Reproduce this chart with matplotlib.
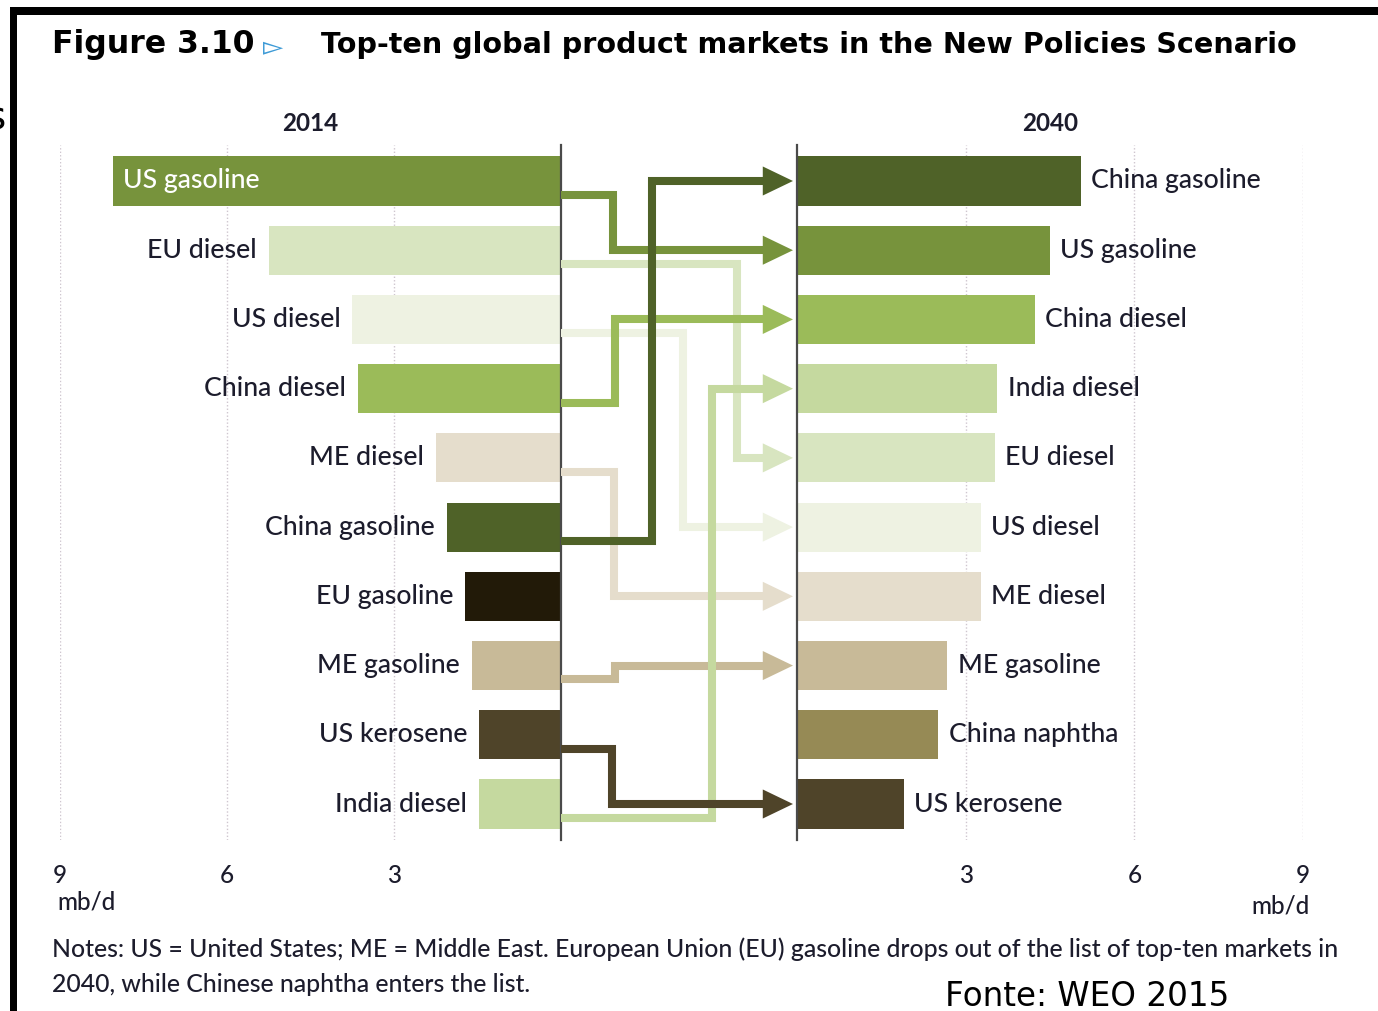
import matplotlib
matplotlib.use("Agg")
import matplotlib.pyplot as plt
from matplotlib.patches import Polygon, Rectangle
import matplotlib.transforms as mtransforms

# ---------------- data ----------------
products_2014 = ["US gasoline", "EU diesel", "US diesel", "China diesel", "ME diesel",
                 "China gasoline", "EU gasoline", "ME gasoline", "US kerosene", "India diesel"]
values_2014 = [8.05, 5.25, 3.75, 3.65, 2.25, 2.05, 1.72, 1.6, 1.47, 1.47]

products_2040 = ["China gasoline", "US gasoline", "China diesel", "India diesel", "EU diesel",
                 "US diesel", "ME diesel", "ME gasoline", "China naphtha", "US kerosene"]
values_2040 = [5.05, 4.5, 4.23, 3.56, 3.52, 3.27, 3.27, 2.67, 2.51, 1.9]

tick_values = [3, 6, 9]
tick_labels = ["3", "6", "9"]

colors = {
    "US gasoline": "#77933c",
    "China gasoline": "#4f6228",
    "China diesel": "#9bbb59",
    "India diesel": "#c5d99f",
    "EU diesel": "#d8e5c0",
    "US diesel": "#eef2e2",
    "ME diesel": "#e5ddcc",
    "ME gasoline": "#c8ba98",
    "EU gasoline": "#221a08",
    "US kerosene": "#4f4429",
    "China naphtha": "#968a55",
}

# elbow position (fraction of the connector gap) for each product's arrow
elbow_x = {
    "US gasoline": 0.22, "China gasoline": 0.385, "EU diesel": 0.745, "China diesel": 0.23,
    "US diesel": 0.515, "India diesel": 0.64, "ME diesel": 0.225, "ME gasoline": 0.23,
    "US kerosene": 0.215,
}
draw_order = ["US diesel", "EU diesel", "ME diesel", "ME gasoline", "India diesel",
              "China diesel", "US gasoline", "US kerosene", "China gasoline"]

TEXT = "#1c1c2c"
LABEL_FONT = ["Lato", "DejaVu Sans"]

W, H = 1378, 1011
fig = plt.figure(figsize=(W / 100, H / 100), dpi=100)
fig.patch.set_facecolor("white")
renderer = fig.canvas.get_renderer()

def fx(px):
    return px / W

def fy(py):
    return 1 - py / H

def fit(t, target_px):
    w = t.get_window_extent(renderer).width
    t.set_fontsize(t.get_fontsize() * target_px / w)

# label font size: fit "China gasoline" to its width in the original
probe = fig.text(0, 0, "China gasoline", fontsize=10, family=LABEL_FONT, weight=500)
fit(probe, 171)
lab_size = probe.get_fontsize()
probe.remove()

top_px, bot_px = 145, 840
ax_b = fy(bot_px)
ax_h = (bot_px - top_px) / H
axL = fig.add_axes([fx(60), ax_b, fx(561) - fx(60), ax_h])
axM = fig.add_axes([fx(561), ax_b, fx(797) - fx(561), ax_h])
axR = fig.add_axes([fx(797), ax_b, fx(1303) - fx(797), ax_h])

ylim = (9.52, -0.52)
bar_h = 0.71
n = len(products_2014)

for ax, side in ((axL, "L"), (axR, "R")):
    ax.set_ylim(*ylim)
    ax.set_xlim(9, 0) if side == "L" else ax.set_xlim(0, 9)
    for s in ax.spines.values():
        s.set_visible(False)
    sp = ax.spines["right"] if side == "L" else ax.spines["left"]
    sp.set_visible(True)
    sp.set_color("#4a4a4a")
    sp.set_linewidth(1.6)
    sp.set_zorder(5)
    ax.set_yticks([])
    ax.set_xticks(tick_values)
    ax.set_xticklabels(tick_labels)
    ax.tick_params(axis="x", length=0, pad=17, labelsize=17.5, labelcolor=TEXT)
    for lab in ax.get_xticklabels():
        lab.set_family(LABEL_FONT)
        lab.set_weight(500)
    ax.grid(axis="x", linestyle=(0, (1, 1.5)), color="#cfc6cf", linewidth=1.0)
    ax.set_axisbelow(True)

# bars
axL.barh(range(n), values_2014, height=bar_h, color=[colors[p] for p in products_2014], zorder=2)
axR.barh(range(n), values_2040, height=bar_h, color=[colors[p] for p in products_2040], zorder=2)

for i, (p, v) in enumerate(zip(products_2014, values_2014)):
    if v > 6:
        axL.annotate(p, (v, i), xytext=(7.5, 0), textcoords="offset points", ha="left",
                     va="center", color="white", fontsize=lab_size, family=LABEL_FONT,
                     weight=500, zorder=4)
    else:
        axL.annotate(p, (v, i), xytext=(-8.5, 0), textcoords="offset points", ha="right",
                     va="center", color=TEXT, fontsize=lab_size, family=LABEL_FONT,
                     weight=500, zorder=4)
for i, (p, v) in enumerate(zip(products_2040, values_2040)):
    axR.annotate(p, (v, i), xytext=(7.5, 0), textcoords="offset points", ha="left",
                 va="center", color=TEXT, fontsize=lab_size, family=LABEL_FONT,
                 weight=500, zorder=4)

axL.set_title("2014", fontsize=17.5, fontweight="bold", color=TEXT, pad=10, family=LABEL_FONT)
axR.set_title("2040", fontsize=17.5, fontweight="bold", color=TEXT, pad=10, family=LABEL_FONT)

# mb/d units
axL.text(9.05, -0.072, "mb/d", transform=mtransforms.blended_transform_factory(axL.transData, axL.transAxes),
         ha="left", va="top", fontsize=17.5, color=TEXT, family=LABEL_FONT, weight=500)
axR.text(9.12, -0.078, "mb/d", transform=mtransforms.blended_transform_factory(axR.transData, axR.transAxes),
         ha="right", va="top", fontsize=17.5, color=TEXT, family=LABEL_FONT, weight=500)

# connector arrows
axM.set_xlim(0, 1)
axM.set_ylim(*ylim)
axM.axis("off")
start_off = 0.2
tip_x = 0.983
head_len = 0.128
head_w = 0.42
lw_pt = 5.8
for z, p in enumerate(draw_order):
    i = products_2014.index(p)
    j = products_2040.index(p)
    ys = i + start_off
    ye = j
    xe = elbow_x[p]
    base = tip_x - head_len
    c = colors[p]
    axM.plot([0, xe, xe, base + 0.01], [ys, ys, ye, ye], color=c, lw=lw_pt,
             solid_joinstyle="miter", solid_capstyle="butt", zorder=2 + z, clip_on=False)
    axM.add_patch(Polygon([(base, ye - head_w / 2), (tip_x, ye), (base, ye + head_w / 2)],
                          closed=True, facecolor=c, edgecolor="none", zorder=2 + z, clip_on=False))

# ---------------- titles and notes ----------------
t1 = fig.text(fx(52), fy(45), "Figure 3.10", ha="left", va="center", fontsize=19.5,
              fontweight="bold", color="black", family="DejaVu Sans")
tri = fig.text(fx(263), fy(47), "\u25BB", ha="left", va="center", fontsize=19,
               color="#3d9ad6", family="DejaVu Sans")
t2 = fig.text(fx(321), fy(45), "Top-ten global product markets in the New Policies Scenario",
              ha="left", va="center", fontsize=19, fontweight="bold", color="black",
              family="DejaVu Sans")
n1 = fig.text(fx(52), fy(949), "Notes: US = United States; ME = Middle East. European Union (EU) gasoline "
              "drops out of the list of top-ten markets in", ha="left", va="center",
              fontsize=16, color=TEXT, family=LABEL_FONT, weight=500)
n2 = fig.text(fx(52), fy(985), "2040, while Chinese naphtha enters the list.", ha="left", va="center",
              fontsize=16, color=TEXT, family=LABEL_FONT, weight=500)
src = fig.text(fx(945), fy(996), "Fonte: WEO 2015", ha="left", va="center", fontsize=23,
               color="black", family="DejaVu Sans")
fig.text(fx(6), fy(118), "s", ha="right", va="center", fontsize=28, color="black", family="DejaVu Sans")

fit(t1, 203)
fit(t2, 976)
fit(n1, 1290)
n2.set_fontsize(n1.get_fontsize())
fit(src, 285)

# frame pieces (cropped border of the original slide)
fig.add_artist(Rectangle((fx(10), fy(15)), 1, 8 / H, transform=fig.transFigure,
                         facecolor="black", edgecolor="none"))
fig.add_artist(Rectangle((fx(10), 0), 7 / W, fy(7), transform=fig.transFigure,
                         facecolor="black", edgecolor="none"))

fig.savefig("out.png", dpi=100, facecolor="white")
